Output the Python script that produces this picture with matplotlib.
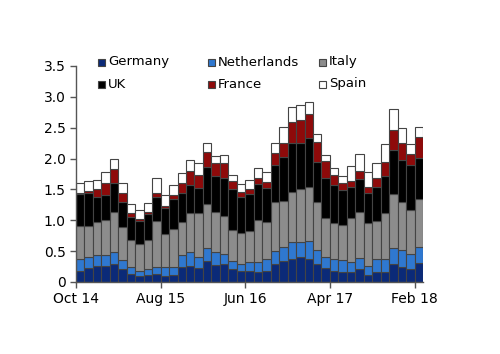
import numpy as np
import pandas as pd
import matplotlib
matplotlib.use("Agg")
import matplotlib.pyplot as plt
from matplotlib.patches import Rectangle

# monthly data, Oct 14 .. Feb 18
months = pd.date_range("2014-10-01", "2018-02-01", freq="MS")
month_labels = [d.strftime("%b %y") for d in months]

germany = [0.18, 0.23, 0.26, 0.26, 0.29, 0.21, 0.13, 0.10, 0.11, 0.13,
           0.10, 0.11, 0.25, 0.26, 0.22, 0.34, 0.28, 0.29, 0.21, 0.18,
           0.18, 0.17, 0.18, 0.29, 0.34, 0.38, 0.40, 0.37, 0.29, 0.23,
           0.18, 0.17, 0.16, 0.21, 0.12, 0.17, 0.17, 0.29, 0.24, 0.21, 0.30]
netherlands = [0.19, 0.17, 0.18, 0.17, 0.20, 0.14, 0.11, 0.08, 0.10, 0.12,
               0.15, 0.14, 0.19, 0.22, 0.18, 0.21, 0.20, 0.17, 0.13, 0.11,
               0.14, 0.16, 0.20, 0.21, 0.22, 0.26, 0.25, 0.29, 0.23, 0.18,
               0.19, 0.19, 0.17, 0.18, 0.14, 0.20, 0.20, 0.26, 0.28, 0.24, 0.27]
italy = [0.54, 0.51, 0.53, 0.57, 0.64, 0.54, 0.44, 0.43, 0.47, 0.74,
         0.53, 0.61, 0.54, 0.63, 0.71, 0.71, 0.66, 0.61, 0.50, 0.51,
         0.51, 0.67, 0.60, 0.79, 0.75, 0.82, 0.85, 0.88, 0.78, 0.62,
         0.58, 0.56, 0.71, 0.75, 0.69, 0.62, 0.74, 0.88, 0.78, 0.71, 0.78]
uk = [0.51, 0.54, 0.41, 0.41, 0.47, 0.40, 0.37, 0.38, 0.42, 0.39,
      0.42, 0.48, 0.46, 0.46, 0.42, 0.60, 0.57, 0.62, 0.66, 0.57,
      0.60, 0.58, 0.54, 0.60, 0.72, 0.80, 0.75, 0.80, 0.65, 0.66,
      0.62, 0.57, 0.50, 0.53, 0.49, 0.55, 0.60, 0.71, 0.67, 0.73, 0.66]
france = [0.03, 0.03, 0.12, 0.20, 0.23, 0.16, 0.06, 0.03, 0.03, 0.07,
          0.03, 0.07, 0.16, 0.23, 0.20, 0.24, 0.21, 0.24, 0.13, 0.09,
          0.07, 0.10, 0.10, 0.20, 0.23, 0.33, 0.38, 0.38, 0.32, 0.27,
          0.16, 0.11, 0.10, 0.13, 0.10, 0.14, 0.24, 0.33, 0.29, 0.18, 0.34]
spain = [0.16, 0.15, 0.16, 0.17, 0.16, 0.15, 0.15, 0.14, 0.15, 0.24,
         0.18, 0.16, 0.16, 0.18, 0.20, 0.16, 0.12, 0.13, 0.10, 0.12,
         0.15, 0.17, 0.16, 0.17, 0.25, 0.25, 0.23, 0.20, 0.13, 0.10,
         0.12, 0.12, 0.24, 0.27, 0.25, 0.24, 0.28, 0.33, 0.23, 0.16, 0.16]

series = [("Germany", germany, "#0b2a78"),
          ("Netherlands", netherlands, "#2f78d0"),
          ("Italy", italy, "#8c8c8c"),
          ("UK", uk, "#000000"),
          ("France", france, "#8e0a0a"),
          ("Spain", spain, "#ffffff")]

tick_every = 10
EDGE = "#444444"

fig = plt.figure(figsize=(5.0, 3.54), dpi=100, facecolor="white")
ax = fig.add_axes([0.152, 0.2034, 0.694, 0.6102])

x = np.arange(len(month_labels))
bottom = np.zeros(len(month_labels))
for name, vals, col in series:
    vals = np.array(vals)
    ax.bar(x, vals, width=1.0, bottom=bottom, align="edge",
           color=col, edgecolor=EDGE, linewidth=0.8, label=name)
    bottom += vals

ax.set_xlim(0, len(month_labels))
ax.set_ylim(0, 3.5)
yt = np.arange(0, 3.51, 0.5)
ax.set_yticks(yt)
ax.set_yticklabels(["0" if v == 0 else f"{v:.1f}" for v in yt])
ax.set_xticks(x[::tick_every])
ax.set_xticklabels(month_labels[::tick_every])

for sp in ["top", "right"]:
    ax.spines[sp].set_visible(False)
for sp in ["left", "bottom"]:
    ax.spines[sp].set_color("#555555")
    ax.spines[sp].set_linewidth(1.0)
ax.tick_params(axis="both", labelsize=10, colors="#555555", labelcolor="black",
               length=4, width=1.0, direction="out")

# legend: 2 rows x 3 evenly spaced columns (figure pixel coords)
W, H = 500, 354
col_x = [98, 208, 319]
row_y = [62, 84]
sq = 7
for i, (name, vals, col) in enumerate(series):
    r, c = divmod(i, 3)
    x0, yc = col_x[c], row_y[r]
    fig.patches.append(Rectangle((x0 / W, (H - yc - sq / 2) / H), sq / W, sq / H,
                                 transform=fig.transFigure, facecolor=col,
                                 edgecolor=EDGE, linewidth=0.8))
    fig.text((x0 + sq + 3) / W, (H - yc) / H, name, fontsize=9.5,
             ha="left", va="center")

fig.savefig("out.png", dpi=100, facecolor="white")
